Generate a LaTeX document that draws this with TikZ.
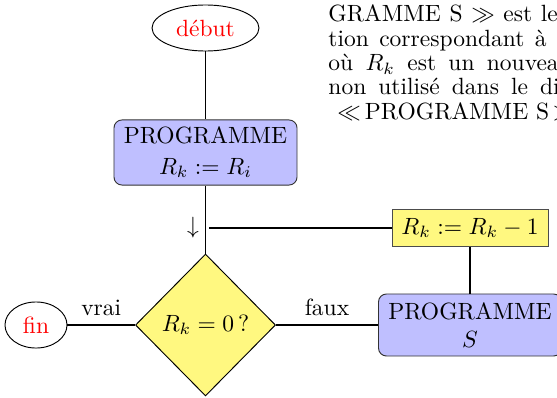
\documentclass[tikz,border=0pt]{standalone}
\usetikzlibrary{shapes.geometric}
\begin{document}
\begin{tikzpicture}[x=0.4256pt,y=-0.4256pt,
  conn/.style={draw=black,line width=0.8pt},
  termnode/.style={ellipse,draw=black,line width=0.4pt,text=red,inner sep=0pt},
  progbox/.style={rectangle,rounded corners=3.4pt,draw=black!80,line width=0.4pt,fill=blue!25,align=center,inner sep=0pt,minimum width=77.9pt},
  opbox/.style={rectangle,draw=black!70,line width=0.4pt,fill=yellow!50,inner sep=0pt,minimum width=66.4pt,minimum height=15.7pt},
  testnode/.style={diamond,draw=black,line width=0.4pt,fill=yellow!50,inner sep=0pt,minimum width=59.6pt,minimum height=60.4pt},
  bodytext/.style={anchor=base west,inner sep=0pt}]
\useasboundingbox (0,0) rectangle (557,397);
% body text (clipped by the page)
\node[bodytext] (t1) at (328,22) {\makebox[97.6pt][s]{GRAMME S $\gg$ est le}};
\node[bodytext] (t2) at (328,47) {\makebox[92.8pt][s]{tion correspondant à}};
\node[bodytext] (t3) at (328,71) {\makebox[98pt][s]{où $R_k$ est un nouvea}};
\node[bodytext] (t4) at (328,95) {\makebox[98.4pt][s]{non utilisé dans le di}};
\node[bodytext] (t5) at (337,119) {$\ll$\,PROGRAMME S\,$\gg$};
% flowchart
\node[termnode,minimum width=45.5pt,minimum height=19.6pt] (debut) at (205.5,28) {début};
\node[progbox,minimum height=27.7pt] (prog1) at (205.5,152.5) {PROGRAMME\\[1pt]$R_k := R_i$};
\node[testnode] (test) at (205.5,325) {$R_k = 0\,?$};
\node[termnode,minimum width=26.4pt,minimum height=19.6pt] (fin) at (36,325) {fin};
\node[progbox,minimum height=26.4pt] (progS) at (470,325) {PROGRAMME\\$S$};
\node[opbox] (dec) at (470,228) {$R_k := R_k - 1$};
\node[inner sep=0pt] (arr) at (193,228) {$\downarrow$};
\coordinate (J) at (208.5,228);
\draw[conn] (debut) -- (prog1);
\draw[conn] (prog1) -- (test);
\draw[conn] (dec) -- (J);
\draw[conn] (dec) -- (progS);
\draw[conn] (fin) -- node[above] {vrai} (test);
\draw[conn] (test) -- node[above] {faux} (progS);
\end{tikzpicture}
\end{document}
